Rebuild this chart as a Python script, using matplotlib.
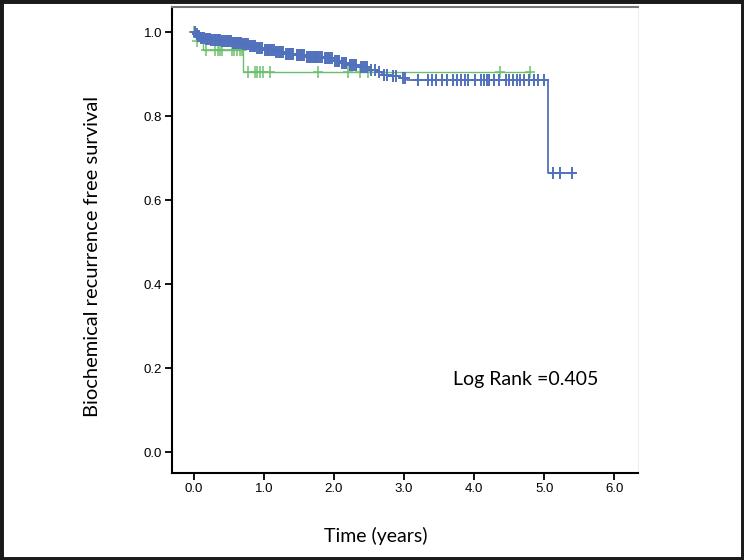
import numpy as np
import matplotlib.pyplot as plt
from matplotlib.patches import Rectangle

# Kaplan-Meier step data (years, survival)
blue_t = [0.0, 0.03, 0.06, 0.10, 0.15, 0.25, 0.40, 0.55, 0.70, 0.78, 0.90, 1.00,
          1.15, 1.30, 1.45, 1.60, 1.85, 2.00, 2.10, 2.20, 2.35, 2.50, 2.62, 2.68,
          2.80, 2.95, 3.05, 5.06]
blue_s = [1.0, 0.995, 0.991, 0.987, 0.984, 0.981, 0.978, 0.975, 0.972, 0.966, 0.962, 0.958,
          0.953, 0.949, 0.945, 0.942, 0.938, 0.932, 0.926, 0.921, 0.916, 0.911, 0.904, 0.899,
          0.895, 0.891, 0.887, 0.665]
blue_end = 5.40
blue_cens = [0.02, 0.04, 0.06, 0.08, 0.10, 0.12, 0.14, 0.17, 0.19, 0.21, 0.23, 0.25,
             0.28, 0.30, 0.32, 0.34, 0.36, 0.38, 0.41, 0.43, 0.45, 0.47, 0.49, 0.51,
             0.53, 0.56, 0.58, 0.60, 0.62, 0.64, 0.66, 0.68, 0.71, 0.73, 0.75, 0.77,
             0.80, 0.82, 0.84, 0.86, 0.88, 0.91, 0.93, 0.95, 0.97, 1.02, 1.04, 1.06,
             1.08, 1.10, 1.12, 1.14, 1.17, 1.19, 1.21, 1.23, 1.25, 1.27, 1.32, 1.34,
             1.36, 1.38, 1.40, 1.42, 1.47, 1.49, 1.51, 1.53, 1.55, 1.57, 1.62, 1.64,
             1.66, 1.68, 1.70, 1.72, 1.74, 1.76, 1.78, 1.80, 1.83, 1.87, 1.89, 1.91,
             1.93, 1.95, 1.97, 2.02, 2.04, 2.06, 2.08, 2.12, 2.14, 2.16, 2.18, 2.23,
             2.25, 2.27, 2.30, 2.32, 2.38, 2.41, 2.44, 2.47, 2.53, 2.58, 2.65, 2.72,
             2.76, 2.84, 2.88, 2.98, 3.02,
             3.20, 3.34, 3.40, 3.46, 3.55, 3.62, 3.70, 3.76, 3.82, 3.87, 3.92, 4.02,
             4.10, 4.14, 4.18, 4.22, 4.28, 4.36, 4.45, 4.50, 4.55, 4.62, 4.66, 4.72,
             4.78, 4.85, 4.92, 5.00, 5.13, 5.22, 5.40]

green_t = [0.0, 0.03, 0.13, 0.71]
green_s = [1.0, 0.979, 0.957, 0.905]
green_end = 4.80
green_cens = [0.01, 0.05, 0.18, 0.30, 0.35, 0.38, 0.41, 0.54, 0.58, 0.62, 0.66, 0.69,
              0.77, 0.87, 0.91, 0.95, 0.99, 1.09, 1.77, 2.20, 2.37, 2.49, 4.37, 4.80]

blue = '#5271bd'
green = '#6cc06c'


def km_curve(ax, t, s, end, cens, color, lw, mew):
    xs = list(t) + [end]
    ys = list(s) + [s[-1]]
    ax.step(xs, ys, where='post', color=color, lw=lw, zorder=3)
    # censor marks sit on the step level at that time
    idx = np.searchsorted(t, cens, side='right') - 1
    cy = np.array(s)[idx]
    ax.plot(cens, cy, linestyle='none', marker='|', markersize=8,
            markeredgewidth=mew, color=color, zorder=3)
    ax.plot(cens, cy, linestyle='none', marker='_', markersize=7,
            markeredgewidth=mew, color=color, zorder=3)


fig = plt.figure(figsize=(7.44, 5.6), dpi=100)
ax = fig.add_axes([172 / 744, 1 - 473 / 560, 466 / 744, 466 / 560])

km_curve(ax, green_t, green_s, green_end, green_cens, green, 1.0, 1.1)
km_curve(ax, blue_t, blue_s, blue_end, blue_cens, blue, 1.3, 1.4)

ax.set_xlim(-0.31, 6.34)
ax.set_ylim(-0.05, 1.06)
ax.set_xticks(np.arange(0, 7, 1))
ax.set_xticklabels([f'{v:.1f}' for v in range(7)])
ax.set_yticks(np.arange(0, 1.01, 0.2))
ax.set_yticklabels([f'{v:.1f}' for v in np.arange(0, 1.01, 0.2)])
ax.tick_params(direction='out', length=5, width=1.3, labelsize=9.5, pad=2)
for lab in ax.get_xticklabels() + ax.get_yticklabels():
    lab.set_family('Liberation Sans')

ax.spines['left'].set_linewidth(1.5)
ax.spines['bottom'].set_linewidth(1.5)
ax.spines['top'].set_color('#777777')
ax.spines['top'].set_linewidth(1.5)
ax.spines['right'].set_color('#eeeeee')
ax.spines['right'].set_linewidth(0.8)

fig.text(93 / 744, 1 - 256 / 560, 'Biochemical recurrence free survival',
         fontsize=14.5, family='Lato', rotation=90, ha='center', va='center')
fig.text(376 / 744, 1 - 536 / 560, 'Time (years)', fontsize=14,
         family='Lato', ha='center', va='center')
ax.text(3.70, 0.172, 'Log Rank =0.405', fontsize=14, family='Lato',
        ha='left', va='center')

fig.patches.append(Rectangle((0, 0), 1, 1, transform=fig.transFigure,
                             fill=False, edgecolor='#1a1a1a', linewidth=5))

fig.savefig('out.png', dpi=100)
